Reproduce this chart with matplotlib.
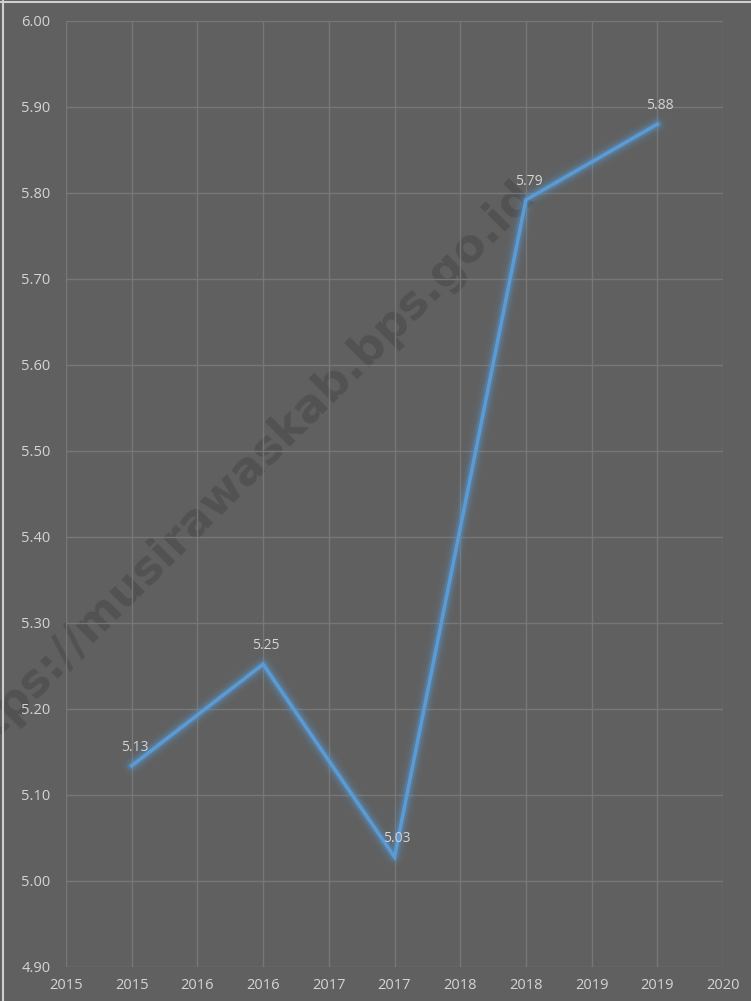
import matplotlib
matplotlib.use("Agg")
import matplotlib.pyplot as plt

# data
years = [2015, 2016, 2017, 2018, 2019]
values = [5.134, 5.252, 5.028, 5.792, 5.880]
tick_labels = ["2015", "2015", "2016", "2016", "2017", "2017",
               "2018", "2018", "2019", "2019", "2020"]
y_ticks = [4.90, 5.00, 5.10, 5.20, 5.30, 5.40, 5.50, 5.60, 5.70, 5.80, 5.90, 6.00]

bg = "#606060"
grid_c = "#777777"
text_c = "#d4d4d4"
line_c = "#5b9bd5"

plt.rcParams['font.family'] = ['Open Sans', 'DejaVu Sans']

fig = plt.figure(figsize=(7.51, 10.01), dpi=100, facecolor=bg)
ax = fig.add_axes([66/751, 1 - 967/1001, (723-66)/751, (967-21)/1001])
ax.patch.set_visible(False)

# half-year axis: each year sits on the second of its two ticks
xs = [(y - years[0]) * 2 + 1 for y in years]

# glow
for lw, a in [(14, 0.06), (10, 0.10), (7, 0.16), (5, 0.22)]:
    ax.plot(xs, values, color=line_c, lw=lw, alpha=a, solid_capstyle="round",
            solid_joinstyle="round", zorder=3)
ax.plot(xs, values, color=line_c, lw=2.5, zorder=4, solid_joinstyle="miter")

for x, v in zip(xs, values):
    ax.annotate(f"{v:.2f}", (x, v), xytext=(2, 8), textcoords="offset points",
                ha="center", va="bottom", color=text_c, fontsize=10, zorder=5)

ax.set_xlim(0, len(tick_labels) - 1)
ax.set_ylim(y_ticks[0], y_ticks[-1])
ax.set_xticks(range(len(tick_labels)))
ax.set_xticklabels(tick_labels)
ax.set_yticks(y_ticks)
ax.set_yticklabels([f"{t:.2f}" for t in y_ticks])
ax.tick_params(colors=text_c, labelsize=10.5, length=0)
ax.tick_params(axis="y", pad=11)
ax.tick_params(axis="x", pad=8)
ax.grid(True, color=grid_c, lw=1)
ax.set_axisbelow(True)
for s in ax.spines.values():
    s.set_visible(False)

# watermark, under the grid
fig.text(238/751, 1 - 478/1001, "https://musirawaskab.bps.go.id", rotation=45,
         ha="center", va="center", fontsize=33, fontweight="bold",
         color="#525252", family="DejaVu Sans", zorder=-1)

# thin light border top/left
fig.add_artist(plt.Line2D([0.004, 0.004], [0, 1], color="#cfcfcf", lw=1.5))
fig.add_artist(plt.Line2D([0, 1], [0.998, 0.998], color="#cfcfcf", lw=1.5))

fig.savefig("out.png", dpi=100, facecolor=bg)
